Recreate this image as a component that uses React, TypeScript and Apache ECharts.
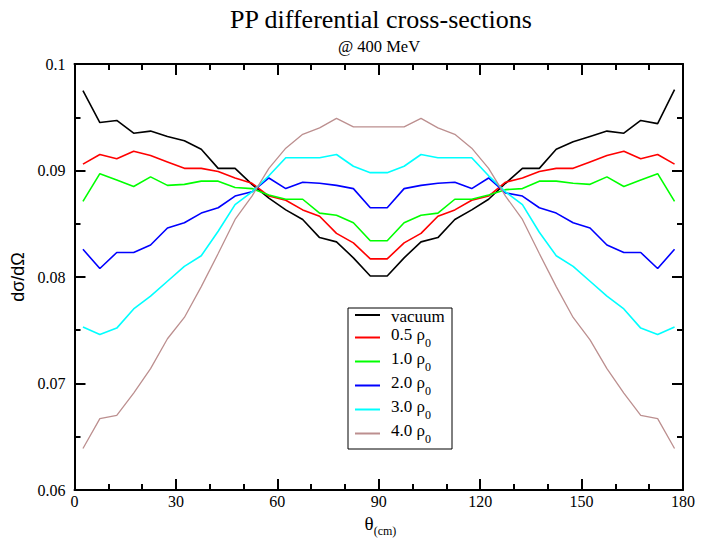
import React, { useEffect, useRef } from "react";
import * as echarts from "echarts";

const theta = [
  2.5, 7.5, 12.5, 17.5, 22.5, 27.5, 32.5, 37.5, 42.5, 47.5, 52.5, 57.5,
  62.5, 67.5, 72.5, 77.5, 82.5, 87.5, 92.5, 97.5, 102.5, 107.5, 112.5, 117.5,
  122.5, 127.5, 132.5, 137.5, 142.5, 147.5, 152.5, 157.5, 162.5, 167.5, 172.5, 177.5,
];

const vacuum = [
  0.0975, 0.0945, 0.0947, 0.0935, 0.0937, 0.0932, 0.0928, 0.092, 0.0902, 0.0902, 0.0887, 0.0874,
  0.0863, 0.0854, 0.0837, 0.0833, 0.0818, 0.0801, 0.0801, 0.0818, 0.0833, 0.0837, 0.0854, 0.0863,
  0.0873, 0.0888, 0.0902, 0.0902, 0.092, 0.0927, 0.0932, 0.0937, 0.0935, 0.0947, 0.0944, 0.0976,
];
const rho05 = [
  0.0906, 0.0915, 0.0911, 0.0918, 0.0914, 0.0908, 0.0902, 0.0902, 0.0899, 0.0893, 0.0888, 0.0876,
  0.0872, 0.0863, 0.0857, 0.0841, 0.0832, 0.0817, 0.0817, 0.0832, 0.0841, 0.0857, 0.0863, 0.0872,
  0.0876, 0.0889, 0.0893, 0.0899, 0.0902, 0.0902, 0.0908, 0.0914, 0.0918, 0.0911, 0.0915, 0.0906,
];
const rho10 = [
  0.0871, 0.0897, 0.0891, 0.0885, 0.0894, 0.0886, 0.0887, 0.089, 0.089, 0.0884, 0.0883, 0.0877,
  0.0873, 0.0873, 0.086, 0.0858, 0.0851, 0.0834, 0.0834, 0.0851, 0.0858, 0.086, 0.0873, 0.0873,
  0.0877, 0.0882, 0.0883, 0.089, 0.089, 0.0888, 0.0887, 0.0894, 0.0885, 0.0891, 0.0897, 0.0871,
];
const rho20 = [
  0.0826, 0.0808, 0.0823, 0.0823, 0.083, 0.0846, 0.0851, 0.086, 0.0865, 0.0876, 0.088, 0.0893,
  0.0883, 0.0889, 0.0888, 0.0886, 0.0883, 0.0865, 0.0865, 0.0883, 0.0886, 0.0888, 0.0889, 0.0883,
  0.0893, 0.0879, 0.0876, 0.0865, 0.086, 0.0851, 0.0846, 0.083, 0.0823, 0.0823, 0.0808, 0.0826,
];
const rho30 = [
  0.0753, 0.0746, 0.0752, 0.077, 0.0782, 0.0796, 0.081, 0.082, 0.0843, 0.0868, 0.088, 0.0895,
  0.0912, 0.0912, 0.0912, 0.0915, 0.0904, 0.0898, 0.0898, 0.0904, 0.0915, 0.0912, 0.0912, 0.0912,
  0.0895, 0.088, 0.0868, 0.0842, 0.082, 0.081, 0.0796, 0.0782, 0.077, 0.0752, 0.0746, 0.0753,
];
const rho40 = [
  0.0639, 0.0667, 0.067, 0.0691, 0.0714, 0.0742, 0.0762, 0.0791, 0.0822, 0.0854, 0.0876, 0.0902,
  0.0921, 0.0934, 0.094, 0.0949, 0.0941, 0.0941, 0.0941, 0.0941, 0.0949, 0.094, 0.0934, 0.0921,
  0.0902, 0.0876, 0.0854, 0.0822, 0.0791, 0.0762, 0.0741, 0.0714, 0.0691, 0.067, 0.0667, 0.0639,
];

const seriesNames = ["vacuum", "0.5 ρ0", "1.0 ρ0", "2.0 ρ0", "3.0 ρ0", "4.0 ρ0"];
const seriesValues = [vacuum, rho05, rho10, rho20, rho30, rho40];
const seriesColors = ["#000000", "#ff0000", "#00ff00", "#0000ff", "#00ffff", "#bc8f8f"];
const xTicks = { min: 0, max: 180, interval: 30 };
const yTicks = { min: 0.06, max: 0.1, interval: 0.01 };

const SERIF = "'Liberation Serif', 'Times New Roman', serif";
const SANS = "'Liberation Sans', Arial, sans-serif";

export default function App() {
  const ref = useRef<HTMLDivElement>(null);
  useEffect(() => {
    if (!ref.current) return;
    const chart = echarts.init(ref.current, null, { renderer: "svg" });
    const axisCommonX = (pos: "bottom" | "top", showLabel: boolean) => ({
      type: "value",
      position: pos,
      min: xTicks.min,
      max: xTicks.max,
      interval: xTicks.interval,
      axisLine: { show: true, onZero: false, lineStyle: { color: "#000", width: 2 } },
      axisTick: { show: true, inside: true, length: 11, lineStyle: { color: "#000", width: 2 } },
      minorTick: { show: true, splitNumber: 3, length: 6, lineStyle: { color: "#000", width: 2 } },
      splitLine: { show: false },
      minorSplitLine: { show: false },
      axisLabel: {
        show: showLabel,
        margin: 3,
        color: "#000",
        fontFamily: SERIF,
        fontSize: 16,
      },
    });
    const axisCommonY = (pos: "left" | "right", showLabel: boolean) => ({
      type: "value",
      position: pos,
      min: yTicks.min,
      max: yTicks.max,
      interval: yTicks.interval,
      axisLine: { show: true, onZero: false, lineStyle: { color: "#000", width: 2 } },
      axisTick: { show: true, inside: true, length: 11, lineStyle: { color: "#000", width: 2 } },
      minorTick: { show: true, splitNumber: 2, length: 6, lineStyle: { color: "#000", width: 2 } },
      splitLine: { show: false },
      minorSplitLine: { show: false },
      axisLabel: {
        show: showLabel,
        margin: 9,
        color: "#000",
        fontFamily: SERIF,
        fontSize: 16,
        formatter: (v: number) => String(parseFloat(v.toFixed(2))),
      },
    });

    const option: any = {
      animation: false,
      backgroundColor: "#ffffff",
      grid: { left: 74.5, right: 27, top: 64, bottom: 49, containLabel: false },
      xAxis: [axisCommonX("bottom", true), axisCommonX("top", false)],
      yAxis: [
        {
          ...axisCommonY("left", true),
          name: "dσ/dΩ",
          nameLocation: "middle",
          nameGap: 34,
          nameRotate: 90,
          nameTextStyle: { color: "#000", fontFamily: SANS, fontSize: 18 },
        },
        axisCommonY("right", false),
      ],
      legend: {
        orient: "vertical",
        left: 355,
        top: 305,
        padding: 0,
        itemGap: 1,
        itemWidth: 25,
        itemHeight: 2,
        icon: "rect",
        data: seriesNames,
        formatter: (name: string) =>
          name === "vacuum" ? `{v|${name}}` : `{m|${name.slice(0, -1)}}{s|${name.slice(-1)}}`,
        textStyle: {
          color: "#000",
          fontFamily: SERIF,
          fontSize: 17,
          rich: {
            v: { fontFamily: SERIF, fontSize: 17, lineHeight: 23, padding: [3, 0, 0, 6], color: "#000" },
            m: {
              fontFamily: SERIF,
              fontSize: 17,
              lineHeight: 23,
              verticalAlign: "top",
              padding: [0, 0, 0, 6],
              color: "#000",
            },
            s: { fontFamily: SERIF, fontSize: 12, lineHeight: 23, verticalAlign: "bottom", color: "#000" },
          },
        },
      },
      graphic: [
        {
          type: "text",
          x: 381,
          y: 19,
          style: {
            text: "PP differential cross-sections",
            fontFamily: SERIF,
            fontSize: 26,
            fill: "#000",
            align: "center",
            verticalAlign: "middle",
          },
        },
        {
          type: "text",
          x: 379,
          y: 46,
          style: {
            text: "@ 400 MeV",
            fontFamily: SERIF,
            fontSize: 16.5,
            fill: "#000",
            align: "center",
            verticalAlign: "middle",
          },
        },
        {
          type: "text",
          x: 369,
          y: 523,
          style: { text: "θ", fontFamily: SERIF, fontSize: 19, fill: "#000", align: "center", verticalAlign: "middle" },
        },
        {
          type: "text",
          x: 385,
          y: 531,
          style: { text: "(cm)", fontFamily: SERIF, fontSize: 12, fill: "#000", align: "center", verticalAlign: "middle" },
        },
        {
          type: "rect",
          z: 1,
          shape: { x: 348, y: 308, width: 104, height: 141 },
          style: { fill: "#ffffff", stroke: "#000", lineWidth: 1 },
        },
      ],
      series: seriesNames.map((name, k) => ({
        name,
        type: "line",
        xAxisIndex: 0,
        yAxisIndex: 0,
        symbol: "none",
        z: 3,
        lineStyle: { color: seriesColors[k], width: k === 5 ? 1.3 : 1.6 },
        itemStyle: { color: seriesColors[k] },
        data: theta.map((t, i) => [t, seriesValues[k][i]]),
      })),
    };
    chart.setOption(option);
    return () => chart.dispose();
  }, []);
  return (
    <div
      ref={ref}
      style={{ position: "fixed", left: 0, top: 0, width: 710, height: 539, background: "#fff" }}
    />
  );
}
